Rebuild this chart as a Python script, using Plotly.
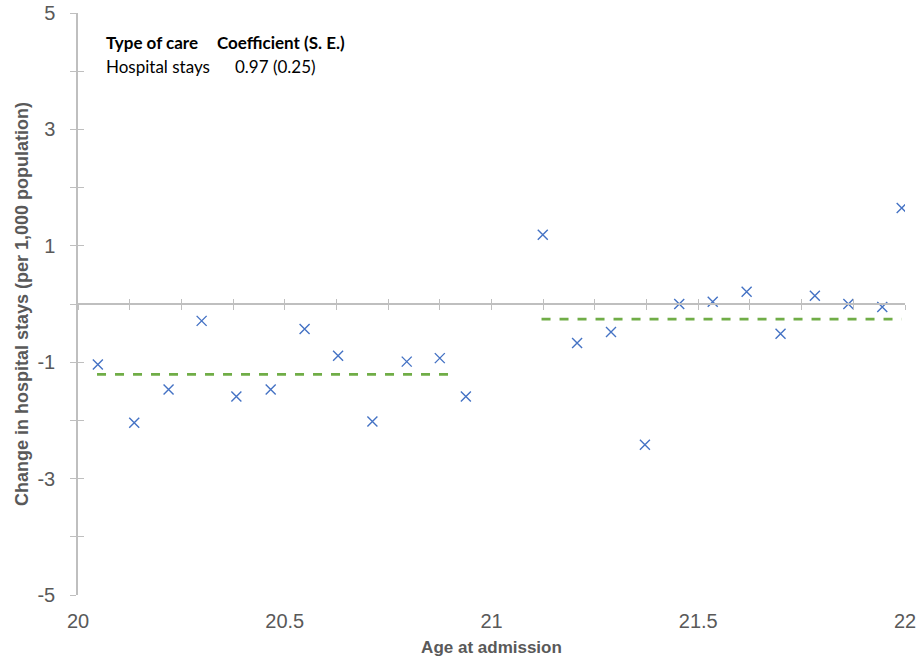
import plotly.graph_objects as go

# ---- data ----
age_before = [20.048, 20.136, 20.219, 20.299, 20.383, 20.466, 20.548, 20.629, 20.712, 20.795, 20.875, 20.938]
stays_before = [-1.04, -2.04, -1.47, -0.29, -1.59, -1.47, -0.43, -0.89, -2.02, -0.99, -0.93, -1.59]
age_after = [21.124, 21.207, 21.289, 21.371, 21.454, 21.535, 21.617, 21.699, 21.782, 21.863, 21.945, 21.992]
stays_after = [1.19, -0.67, -0.48, -2.42, 0.00, 0.04, 0.21, -0.51, 0.14, 0.00, -0.05, 1.65]

fit_before_x = [20.046, 20.915]
fit_before_y = [-1.21, -1.21]
fit_after_x = [21.121, 21.992]
fit_after_y = [-0.26, -0.26]

x_tickvals = [20, 20.5, 21, 21.5, 22]
x_ticktext = ["20", "20.5", "21", "21.5", "22"]
y_tickvals = [-5, -4, -3, -2, -1, 0, 1, 2, 3, 4, 5]
y_ticktext = ["-5", "", "-3", "", "-1", "", "1", "", "3", "", "5"]
zero_axis_ticks = [20 + 0.125 * i for i in range(17)]

header = ["Type of care", "Coefficient (S. E.)"]
row = ["Hospital stays", "0.97 (0.25)"]

GRAY_LINE = "#BFBFBF"
LABEL = "#595959"
BLUE = "#4472C4"
GREEN = "#70AD47"
TICKFONT = dict(family="Liberation Sans, Arial", size=20, color=LABEL)

fig = go.Figure()

# helper traces to register the overlay axes
fig.add_trace(go.Scatter(x=[None], y=[None], xaxis="x2", yaxis="y", showlegend=False, hoverinfo="skip"))
fig.add_trace(go.Scatter(x=[None], y=[None], xaxis="x3", yaxis="y", showlegend=False, hoverinfo="skip"))
fig.add_trace(go.Scatter(x=[None], y=[None], xaxis="x", yaxis="y2", showlegend=False, hoverinfo="skip"))

for xs, ys in [(fit_before_x, fit_before_y), (fit_after_x, fit_after_y)]:
    fig.add_trace(go.Scatter(x=xs, y=ys, mode="lines", showlegend=False,
                             line=dict(color=GREEN, width=2.7, dash="9px,9px")))

fig.add_trace(go.Scatter(x=age_before + age_after, y=stays_before + stays_after, mode="markers",
                         showlegend=False,
                         marker=dict(symbol="x-thin", size=10, line=dict(color=BLUE, width=1.4))))

fig.update_layout(
    width=920, height=665,
    margin=dict(l=78, r=15, t=13, b=70, autoexpand=False),
    paper_bgcolor="white", plot_bgcolor="white",
    showlegend=False,
    xaxis=dict(range=[20, 22], tickvals=x_tickvals, ticktext=x_ticktext, showline=False,
               showgrid=False, zeroline=False, ticks="", tickfont=TICKFONT, automargin=False,
               ticklabelstandoff=12,
               title=dict(text="<b>Age at admission</b>", font=dict(family="Liberation Sans, Arial", size=17, color=LABEL), standoff=10)),
    xaxis2=dict(range=[20, 22], overlaying="x", anchor="free", position=0.5, side="bottom",
                tickvals=zero_axis_ticks, showticklabels=False, ticks="outside", ticklen=5,
                tickcolor=GRAY_LINE, tickwidth=1.3, showline=True, linecolor=GRAY_LINE, linewidth=1.5,
                showgrid=False, zeroline=False, automargin=False),
    xaxis3=dict(range=[20, 22], overlaying="x", anchor="free", position=0.5, side="bottom",
                tickvals=zero_axis_ticks, showticklabels=False, ticks="inside", ticklen=5,
                tickcolor=GRAY_LINE, tickwidth=1.3, showline=False,
                showgrid=False, zeroline=False, automargin=False),
    yaxis=dict(range=[-5, 5], tickvals=y_tickvals, ticktext=y_ticktext, showline=True,
               linecolor=GRAY_LINE, linewidth=1.5, ticks="outside", ticklen=6, tickcolor=GRAY_LINE,
               tickwidth=1.3, showgrid=False, zeroline=False, tickfont=TICKFONT, ticklabelstandoff=11,
               automargin=False,
               title=dict(text="<b>Change in hospital stays (per 1,000 population)</b>",
                          font=dict(family="Liberation Sans, Arial", size=18, color=LABEL), standoff=4)),
    yaxis2=dict(range=[-5, 5], overlaying="y", side="left", anchor="x", tickvals=y_tickvals,
                showticklabels=False, ticks="inside", ticklen=6, tickcolor=GRAY_LINE, tickwidth=1.3,
                showline=False, showgrid=False, zeroline=False, automargin=False),
)

ann_font_b = dict(family="Lato, Open Sans, sans-serif", size=17, color="#000000")
fig.add_annotation(x=20.062, y=4.495, xref="x", yref="y", text="<b>" + header[0] + "</b>",
                   showarrow=False, xanchor="left", yanchor="middle", font=ann_font_b)
fig.add_annotation(x=20.331, y=4.495, xref="x", yref="y", text="<b>" + header[1] + "</b>",
                   showarrow=False, xanchor="left", yanchor="middle", font=ann_font_b)
fig.add_annotation(x=20.062, y=4.08, xref="x", yref="y", text=row[0],
                   showarrow=False, xanchor="left", yanchor="middle", font=ann_font_b)
fig.add_annotation(x=20.374, y=4.08, xref="x", yref="y", text=row[1],
                   showarrow=False, xanchor="left", yanchor="middle", font=ann_font_b)

# remove the browser's default 8px body margin so the 920x665 figure fills the window exactly
fig.write_html("out.html", config={"displayModeBar": False},
               post_script="document.body.style.margin='0';")
